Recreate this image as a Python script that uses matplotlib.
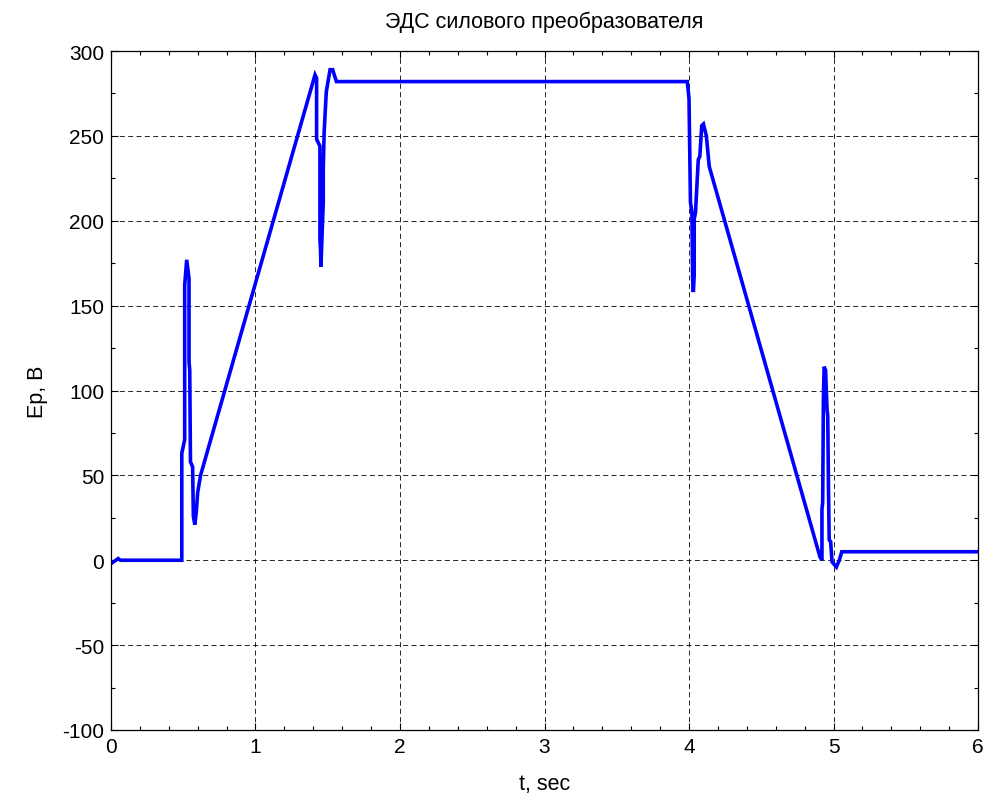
import numpy as np
import matplotlib
matplotlib.use("Agg")
import matplotlib.pyplot as plt
from matplotlib.ticker import MultipleLocator

# EMF of the power converter
t = [0, 0.05, 0.065, 0.49, 0.49, 0.51, 0.51, 0.524, 0.54, 0.54, 0.545,
     0.55, 0.565, 0.57, 0.58, 0.59, 0.60, 0.62, 0.66, 1.412, 1.423,
     1.423, 1.446, 1.446, 1.45, 1.453, 1.46, 1.469, 1.469, 1.475, 1.49,
     1.516, 1.534, 1.56, 3.988, 4.0, 4.01, 4.02, 4.025, 4.03, 4.036,
     4.036, 4.045, 4.064, 4.075, 4.088, 4.1, 4.12, 4.14, 4.906, 4.92,
     4.92, 4.925, 4.93, 4.935, 4.945, 4.955, 4.96, 4.965, 4.97, 4.98,
     4.99, 5.02, 5.04, 5.057, 6.0]
ep = [-2, 1, 0, 0, 63, 71, 162, 177, 166, 117, 112,
      58, 55, 26, 21, 28, 40, 50, 62, 286, 284,
      248, 244, 189, 183, 173, 190, 211, 230, 252, 276,
      289, 289, 282, 282, 272, 211, 205, 166, 158, 168,
      201, 205, 236, 238, 256, 257, 250, 232, 2, 0,
      30, 34, 95, 114, 112, 89, 85, 44, 12, 11,
      -1, -4, 0, 5, 5]

plt.rcParams["font.family"] = ["Liberation Sans", "DejaVu Sans"]
plt.rcParams["axes.unicode_minus"] = False

fig = plt.figure(figsize=(9.9, 8.03), dpi=100)
ax = fig.add_axes([0.1121, 0.0897, 0.8758, 0.8455])

ax.plot(t, ep, color="#0000ff", linewidth=2.6, solid_joinstyle="miter")

ax.set_xlim(0, 6)
ax.set_ylim(-100, 300)
ax.xaxis.set_major_locator(MultipleLocator(1))
ax.xaxis.set_minor_locator(MultipleLocator(0.2))
ax.yaxis.set_major_locator(MultipleLocator(50))
ax.yaxis.set_minor_locator(MultipleLocator(25))
ax.tick_params(which="both", direction="in", top=True, right=True,
               labelsize=15, width=0.8)
ax.tick_params(which="major", length=5, pad=5)
ax.tick_params(which="minor", length=3)

ax.grid(True, which="major", color="black", linestyle=(0, (6, 4)), linewidth=0.6)
for s in ax.spines.values():
    s.set_linewidth(0.9)

ax.set_title("ЭДС силового преобразователя", fontsize=15.5, pad=17)
ax.set_xlabel("t, sec", fontsize=15.5, labelpad=12)
ax.set_ylabel("Ep, B", fontsize=15.5, labelpad=10)

fig.savefig("out.png", dpi=100)
